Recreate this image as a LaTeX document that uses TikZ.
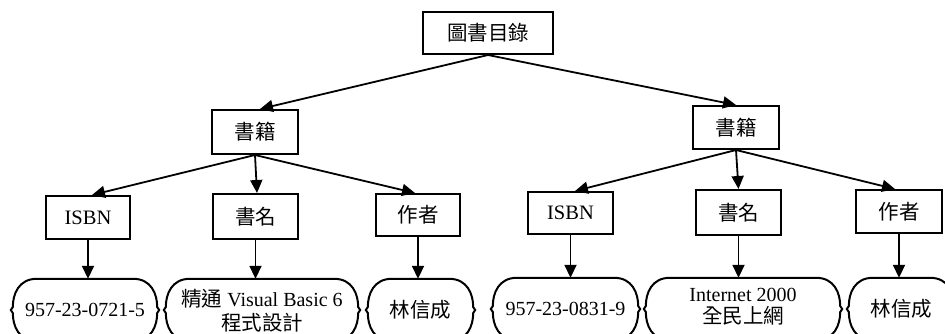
\documentclass[tikz,border=0pt]{standalone}
\usepackage{fontspec}
\setmainfont{Liberation Serif}
\newfontfamily\cjk{Noto Sans CJK TC}
\usetikzlibrary{arrows.meta,calc}
\newcommand{\zh}[1]{{\cjk\fontsize{20.5}{22}\selectfont #1}}
\newcommand{\leafoutline}[1]{%
  \draw[leafline]
    ($(#1.north west)+(24,0)$) -- ($(#1.north east)+(-24,0)$)
    .. controls ($(#1.north east)+(-6,0)$) and ($(#1.east)+(0,-16)$) .. ($(#1.east)+(0,-3)$)
    -- ($(#1.east)+(2,0)$) -- ($(#1.east)+(0,3)$)
    .. controls ($(#1.east)+(0,16)$) and ($(#1.south east)+(-6,0)$) .. ($(#1.south east)+(-24,0)$)
    -- ($(#1.south west)+(24,0)$)
    .. controls ($(#1.south west)+(6,0)$) and ($(#1.west)+(0,16)$) .. ($(#1.west)+(0,3)$)
    -- ($(#1.west)+(-2,0)$) -- ($(#1.west)+(0,-3)$)
    .. controls ($(#1.west)+(0,-16)$) and ($(#1.north west)+(6,0)$) .. cycle;}
\begin{document}
\begin{tikzpicture}[x=1pt,y=-1pt,
  box/.style={draw,line width=2pt,fill=white,inner sep=0pt,font=\fontsize{20.5}{22}\selectfont},
  leaf/.style={inner sep=0pt,minimum height=62pt,align=center,font=\fontsize{20}{23}\selectfont},
  leafline/.style={line width=2pt},
  arr/.style={line width=1.8pt,-{Triangle[length=13pt,width=12pt]}}]
\useasboundingbox (0,0) rectangle (945,333);
\clip (0,0) rectangle (945,333);
% root
\node[box,minimum width=130pt,minimum height=42pt] (root) at (488,33) {\zh{圖書目錄}};
% level 2
\node[box,minimum width=86pt,minimum height=44pt] (bl) at (255,132) {\zh{書籍}};
\node[box,minimum width=86pt,minimum height=43pt] (br) at (736,127.5) {\zh{書籍}};
% level 3 left
\node[box,minimum width=84pt,minimum height=43pt] (isbnl) at (88,217.5) {ISBN};
\node[box,minimum width=85pt,minimum height=45pt] (namel) at (255.5,216.5) {\zh{書名}};
\node[box,minimum width=84pt,minimum height=42pt] (authl) at (418,215) {\zh{作者}};
% level 3 right
\node[box,minimum width=85pt,minimum height=42pt] (isbnr) at (570.5,213) {ISBN};
\node[box,minimum width=85pt,minimum height=45pt] (namer) at (738.5,212.5) {\zh{書名}};
\node[box,minimum width=86pt,minimum height=43pt] (authr) at (899,211.5) {\zh{作者}};
% leaves
\node[leaf,minimum width=144pt] (l1) at (85,310) {957-23-0721-5};
\node[leaf,minimum width=192pt,text depth=0pt] (l2) at (262,310) {\raisebox{0pt}{\zh{精通} Visual Basic 6}\\[1pt]\zh{程式設計}};
\node[leaf,minimum width=105pt] (l3) at (420.5,310) {\zh{林信成}};
\node[leaf,minimum width=145pt] (r1) at (565.5,309) {957-23-0831-9};
\node[leaf,minimum width=194pt] (r2) at (743,309) {};
\node[font=\fontsize{20}{22}\selectfont,inner sep=0pt] (r2a) at (743,295) {Internet 2000};
\node[inner sep=0pt] (r2b) at (743,316) {\zh{全民上網}};
\node[leaf,minimum width=105pt] (r3) at (901.5,309) {\zh{林信成}};
\foreach \n in {l1,l2,l3,r1,r2,r3} {\leafoutline{\n}}
% connectors
\draw[arr] (root.south) -- ($(bl.north)+(5,0)$);
\draw[arr] (root.south) -- (br.north);
\draw[arr] (bl.south) -- ($(isbnl.north)+(4,0)$);
\draw[arr] (bl.south) -- ($(namel.north)+(1.5,0)$);
\draw[arr] (bl.south) -- ($(authl.north)+(-3,0)$);
\draw[arr] (br.south) -- ($(isbnr.north)+(4.5,0)$);
\draw[arr] (br.south) -- (namer.north);
\draw[arr] (br.south) -- ($(authr.north)+(-4,0)$);
\draw[arr] (isbnl.south) -- (l1.north -| isbnl.south);
\draw[arr] (namel.south) -- (l2.north -| namel.south);
\draw[arr] (authl.south) -- (l3.north -| authl.south);
\draw[arr] (isbnr.south) -- (r1.north -| isbnr.south);
\draw[arr] (namer.south) -- (r2.north -| namer.south);
\draw[arr] (authr.south) -- (r3.north -| authr.south);
\end{tikzpicture}
\end{document}
